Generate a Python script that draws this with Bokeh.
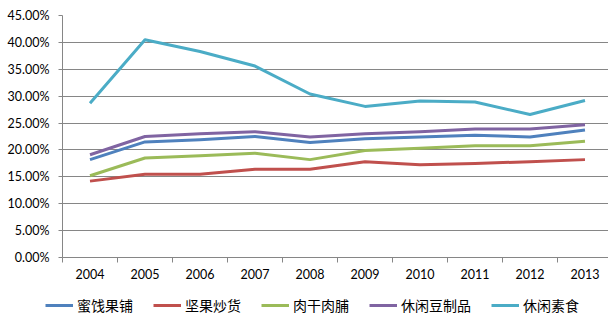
from bokeh.plotting import figure
from bokeh.models import Range1d, FixedTicker, PrintfTickFormatter, Legend, LegendItem
from bokeh.embed import file_html
from bokeh.resources import INLINE

years = ["2004", "2005", "2006", "2007", "2008", "2009", "2010", "2011", "2012", "2013"]
series_names = ["蜜饯果铺", "坚果炒货", "肉干肉脯", "休闲豆制品", "休闲素食"]
mijian = [18.2, 21.5, 21.9, 22.5, 21.4, 22.1, 22.4, 22.75, 22.4, 23.7]
jianguo = [14.2, 15.5, 15.5, 16.4, 16.4, 17.8, 17.25, 17.5, 17.8, 18.2]
rougan = [15.2, 18.5, 18.9, 19.4, 18.2, 19.9, 20.3, 20.8, 20.8, 21.6]
douzhipin = [19.1, 22.5, 23.0, 23.4, 22.4, 23.0, 23.4, 23.9, 23.9, 24.7]
sushi = [28.7, 40.5, 38.3, 35.6, 30.4, 28.1, 29.1, 28.9, 26.6, 29.2]
colors = ["#4F81BD", "#C0504D", "#9BBB59", "#8064A2", "#4BACC6"]
y_ticks = [0, 5, 10, 15, 20, 25, 30, 35, 40, 45]
all_series = [mijian, jianguo, rougan, douzhipin, sushi]

xs = list(range(len(years)))
p = figure(width=608, height=287, output_backend="svg", toolbar_location=None,
           x_range=Range1d(-0.5, -0.5 + 546 / 55), y_range=Range1d(0, 45),
           min_border_left=62, min_border_right=0, min_border_top=15, min_border_bottom=30)
p.outline_line_color = None
p.background_fill_color = "white"
p.border_fill_color = "white"

for vals, c in zip(all_series, colors):
    p.line(xs, vals, line_color=c, line_width=3, line_join="round")

grey = "#868686"
p.xgrid.visible = False
p.ygrid.grid_line_color = grey
p.ygrid.grid_line_width = 1
p.yaxis.ticker = FixedTicker(ticks=y_ticks)
p.yaxis.formatter = PrintfTickFormatter(format="%.2f%%")
p.yaxis.axis_line_color = grey
p.yaxis.major_tick_line_color = grey
p.yaxis.major_tick_out = 4
p.yaxis.major_tick_in = 0
p.yaxis.minor_tick_line_color = None
p.yaxis.major_label_standoff = 9
p.yaxis.major_label_text_font = "Lato"
p.yaxis.major_label_text_font_size = "12.5px"
p.yaxis.major_label_text_color = "#000000"

p.xaxis.ticker = FixedTicker(ticks=xs, minor_ticks=[i - 0.5 for i in range(len(years) + 1)])
p.xaxis.major_label_overrides = {i: y for i, y in enumerate(years)}
p.xaxis.axis_line_color = grey
p.xaxis.major_tick_line_color = None
p.xaxis.major_tick_out = 5
p.xaxis.major_tick_in = 0
p.xaxis.minor_tick_line_color = grey
p.xaxis.minor_tick_out = 5
p.xaxis.minor_tick_in = 0
p.xaxis.major_label_standoff = 6
p.xaxis.major_label_text_font = "Lato"
p.xaxis.major_label_text_font_size = "12.5px"
p.xaxis.major_label_text_color = "#000000"

# legend strip below the chart (separate root, so its frame starts at the left edge)
q = figure(width=608, height=35, output_backend="svg", toolbar_location=None,
           x_range=Range1d(-0.5, 9.5), y_range=Range1d(0, 50),
           x_axis_location=None, y_axis_location=None,
           min_border=0, min_border_left=0, min_border_right=0,
           min_border_top=0, min_border_bottom=0)
q.grid.visible = False
q.outline_line_color = None
q.background_fill_color = "white"
q.border_fill_color = "white"
items = []
for name, vals, c in zip(series_names, all_series, colors):
    r = q.line(xs, vals, line_color=c, line_width=3, visible=False)
    items.append(LegendItem(label=name, renderers=[r]))
lg = Legend(items=items, orientation="horizontal", location=(45, 7),
            padding=0, margin=0, spacing=20, glyph_width=28, glyph_height=20,
            label_height=20, label_standoff=4, border_line_alpha=0, background_fill_alpha=0,
            label_text_font="Noto Sans CJK SC", label_text_font_size="14px",
            label_text_color="#000000")
q.add_layout(lg, "center")

open("out.html", "w").write(file_html([p, q], INLINE))
